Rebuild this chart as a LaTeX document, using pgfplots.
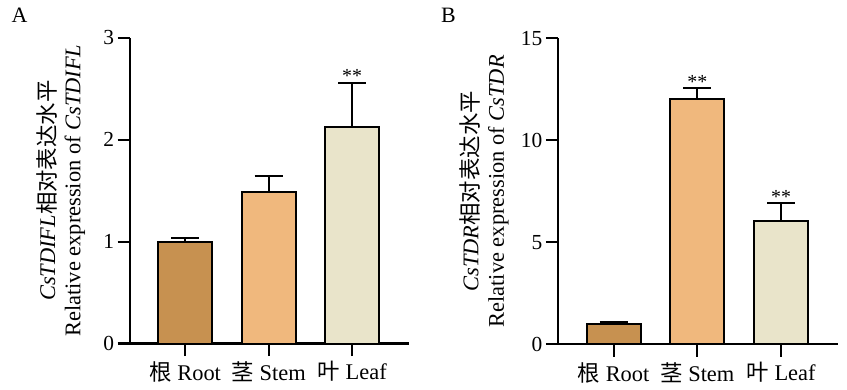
\documentclass[border=0pt]{standalone}
\usepackage{fontspec}
\setmainfont{Liberation Serif}
\newfontfamily\cjk{Noto Sans CJK SC}
\usepackage{pgfplots}
\pgfplotsset{compat=1.18}
\definecolor{cRoot}{RGB}{199,145,80}
\definecolor{cStem}{RGB}{240,184,125}
\definecolor{cLeaf}{RGB}{233,228,202}
\pgfplotsset{
 mybar/.style={ybar, bar width=54bp, bar shift=0pt, draw=black, line width=1.9bp,
   error bars/y dir=plus, error bars/y explicit,
   error bars/error bar style={line width=1.9bp, black},
   error bars/error mark options={rotate=90, line width=1.9bp, mark size=14bp, black}},
 myaxis/.style={scale only axis, axis x line=bottom, axis y line=left,
   axis line style={-, line width=2bp}, tick align=outside, major tick length=12.5bp,
   tick style={line width=2bp, black}, xmin=-0.66, xmax=2.68, ymin=0,
   xtick={0,1,2}, xticklabels={{\cjk 根} Root, {\cjk 茎} Stem, {\cjk 叶} Leaf},
   ticklabel style={font=\fontsize{21.5}{25}\selectfont},
   xticklabel style={font=\fontsize{22.5}{25}\selectfont, yshift=-2bp},
   /pgf/number format/assume math mode=true,
   label style={font=\fontsize{22.5}{25.5}\selectfont},
   ylabel style={align=center, rotate=0, anchor=south}}
}
\begin{document}
\begin{tikzpicture}
\path[use as bounding box] (0,0) rectangle (847bp,390bp);
\node[font=\fontsize{22}{24}\selectfont] at (19.5bp,375bp) {A};
\node[font=\fontsize{22}{24}\selectfont] at (448.5bp,375bp) {B};
\begin{axis}[myaxis, at={(130bp,46.5bp)}, anchor=south west, width=279bp, height=305.8bp,
  ymax=3, ytick={0,1,2,3},
  ylabel={\textit{CsTDIFL}{\cjk 相对表达水平}\\Relative expression of \textit{CsTDIFL}},
  ylabel style={at={(axis description cs:-0.148,0.5)}}]
\addplot[mybar, fill=cRoot] coordinates {(0,1.0) +- (0,0.035)};
\addplot[mybar, fill=cStem] coordinates {(1,1.49) +- (0,0.155)};
\addplot[mybar, fill=cLeaf] coordinates {(2,2.125) +- (0,0.43)};
\node[anchor=south, inner sep=0pt, font=\fontsize{20}{24}\selectfont] at (axis cs:2,2.555) {**};
\end{axis}
\begin{axis}[myaxis, at={(558.3bp,45.7bp)}, anchor=south west, width=279.7bp, height=306bp,
  ymax=15, ytick={0,5,10,15},
  ylabel={\textit{CsTDR}{\cjk 相对表达水平}\\Relative expression of \textit{CsTDR}},
  ylabel style={at={(axis description cs:-0.165,0.5)}}]
\addplot[mybar, fill=cRoot] coordinates {(0,1.0) +- (0,0.11)};
\addplot[mybar, fill=cStem] coordinates {(1,12.02) +- (0,0.53)};
\addplot[mybar, fill=cLeaf] coordinates {(2,6.06) +- (0,0.85)};
\node[anchor=south, inner sep=0pt, font=\fontsize{20}{24}\selectfont] at (axis cs:1,12.55) {**};
\node[anchor=south, inner sep=0pt, font=\fontsize{20}{24}\selectfont] at (axis cs:2,6.91) {**};
\end{axis}
\end{tikzpicture}
\end{document}
